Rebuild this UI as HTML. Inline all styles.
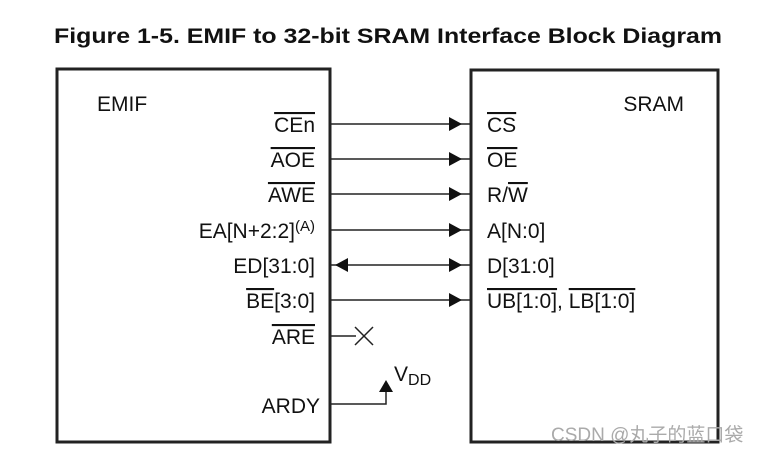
<!DOCTYPE html>
<html><head><meta charset="utf-8"><style>
html,body{margin:0;padding:0;background:#fff;}
svg{display:block;}
text{font-family:"Liberation Sans",Arial,sans-serif;fill:#111;}
.o{text-decoration:overline;}
</style></head><body>
<svg width="757" height="452" viewBox="0 0 757 452" xmlns="http://www.w3.org/2000/svg">
<text x="388" y="43" text-anchor="middle" font-size="21.5" font-weight="bold" textLength="668" lengthAdjust="spacingAndGlyphs">Figure 1-5. EMIF to 32-bit SRAM Interface Block Diagram</text>
<rect x="57" y="69" width="273" height="373" fill="none" stroke="#222" stroke-width="3"/>
<rect x="471" y="70" width="247" height="372" fill="none" stroke="#222" stroke-width="3"/>
<text x="97" y="111" font-size="21">EMIF</text>
<text x="684" y="111" font-size="21" text-anchor="end">SRAM</text>
<g font-size="21" text-anchor="end">
<text x="315" y="132"><tspan class="o">CEn</tspan></text>
<text x="315" y="167"><tspan class="o">AOE</tspan></text>
<text x="315" y="202"><tspan class="o">AWE</tspan></text>
<text x="315" y="238">EA[N+2:2]<tspan font-size="15" dy="-7">(A)</tspan></text>
<text x="315" y="273">ED[31:0]</text>
<text x="315" y="308"><tspan class="o">BE</tspan>[3:0]</text>
<text x="315" y="344"><tspan class="o">ARE</tspan></text>
<text x="320" y="413">ARDY</text>
</g>
<g font-size="21">
<text x="487" y="132"><tspan class="o">CS</tspan></text>
<text x="487" y="167"><tspan class="o">OE</tspan></text>
<text x="487" y="202">R/<tspan class="o">W</tspan></text>
<text x="487" y="238">A[N:0]</text>
<text x="487" y="273">D[31:0]</text>
<text x="487" y="308"><tspan class="o">UB[1:0]</tspan>, <tspan class="o">LB[1:0]</tspan></text>
</g>
<g stroke="#222" stroke-width="1.5" fill="none">
<line x1="331" y1="124" x2="470" y2="124"/>
<line x1="331" y1="159" x2="470" y2="159"/>
<line x1="331" y1="194" x2="470" y2="194"/>
<line x1="331" y1="230" x2="470" y2="230"/>
<line x1="331" y1="265" x2="470" y2="265"/>
<line x1="331" y1="300" x2="470" y2="300"/>
<line x1="331" y1="336" x2="356" y2="336"/>
<line x1="355" y1="327" x2="373" y2="345"/>
<line x1="373" y1="327" x2="355" y2="345"/>
<polyline points="331,404 386,404 386,390"/>
</g>
<g fill="#111">
<polygon points="449,117 462,124 449,131"/>
<polygon points="449,152 462,159 449,166"/>
<polygon points="449,187 462,194 449,201"/>
<polygon points="449,223 462,230 449,237"/>
<polygon points="449,258 462,265 449,272"/>
<polygon points="449,293 462,300 449,307"/>
<polygon points="348,258 335,265 348,272"/>
<polygon points="379,392 386,380 393,392"/>
</g>
<text x="394" y="381" font-size="21">V<tspan font-size="16" dy="4">DD</tspan></text>
<text x="551" y="441" font-size="19" style="fill:#aaa" font-family="'Liberation Sans','Noto Sans CJK SC',sans-serif">CSDN @丸子的蓝口袋</text>
</svg>
</body></html>
